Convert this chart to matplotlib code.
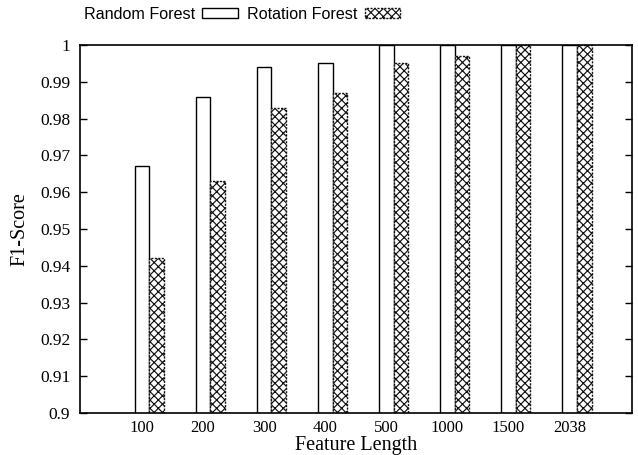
import numpy as np
import matplotlib
matplotlib.use("Agg")
import matplotlib.pyplot as plt

categories = ["100", "200", "300", "400", "500", "1000", "1500", "2038"]
random_forest = [0.967, 0.986, 0.994, 0.995, 1.0, 1.0, 1.0, 1.0]
rotation_forest = [0.942, 0.963, 0.983, 0.987, 0.995, 0.997, 1.0, 1.0]
yticks = [0.9, 0.91, 0.92, 0.93, 0.94, 0.95, 0.96, 0.97, 0.98, 0.99, 1.0]
ytick_labels = ["0.9", "0.91", "0.92", "0.93", "0.94", "0.95", "0.96",
                "0.97", "0.98", "0.99", "1"]

plt.rcParams['hatch.linewidth'] = 0.85

fig = plt.figure(figsize=(6.38, 4.55), dpi=100)
ax = fig.add_axes([0.1254, 0.0923, 0.8646, 0.8087])

x = np.arange(len(categories))
w = 0.24
ax.bar(x - w / 2, random_forest, w, color="white",
       edgecolor="black", linewidth=1.0, label="Random Forest")
ax.bar(x + w / 2, rotation_forest, w, color="white", edgecolor="#111111",
       hatch="xxxx", linewidth=1.0, linestyle=(0, (1.5, 1)),
       label="Rotation Forest")

ax.set_xlim(-1.133, 7.895)
ax.set_ylim(0.9, 1.0)
ax.set_yticks(yticks)
ax.set_yticklabels(ytick_labels, fontfamily="Liberation Serif", fontsize=12.5)
ax.set_xticks(x - w / 2)
ax.set_xticklabels(categories, fontfamily="Liberation Serif", fontsize=12)
ax.tick_params(axis="y", direction="in", length=5, width=1, right=True,
               pad=7)
ax.tick_params(axis="x", length=0, pad=5)
for s in ax.spines.values():
    s.set_linewidth(1.2)

ax.set_xlabel("Feature Length", fontfamily="Liberation Serif", fontsize=14.5,
              labelpad=0)
ax.set_ylabel("F1-Score", fontfamily="Liberation Serif", fontsize=14.5)
ax.yaxis.set_label_coords(-0.092, 0.5)

leg = ax.legend(loc="lower left", bbox_to_anchor=(-0.005, 1.045), ncol=2,
                frameon=False, markerfirst=False, handlelength=2.2,
                handleheight=0.55, columnspacing=0.6, handletextpad=0.45,
                prop={"family": "Liberation Sans", "size": 11.6},
                borderaxespad=0)

fig.savefig("out.png", dpi=100)
